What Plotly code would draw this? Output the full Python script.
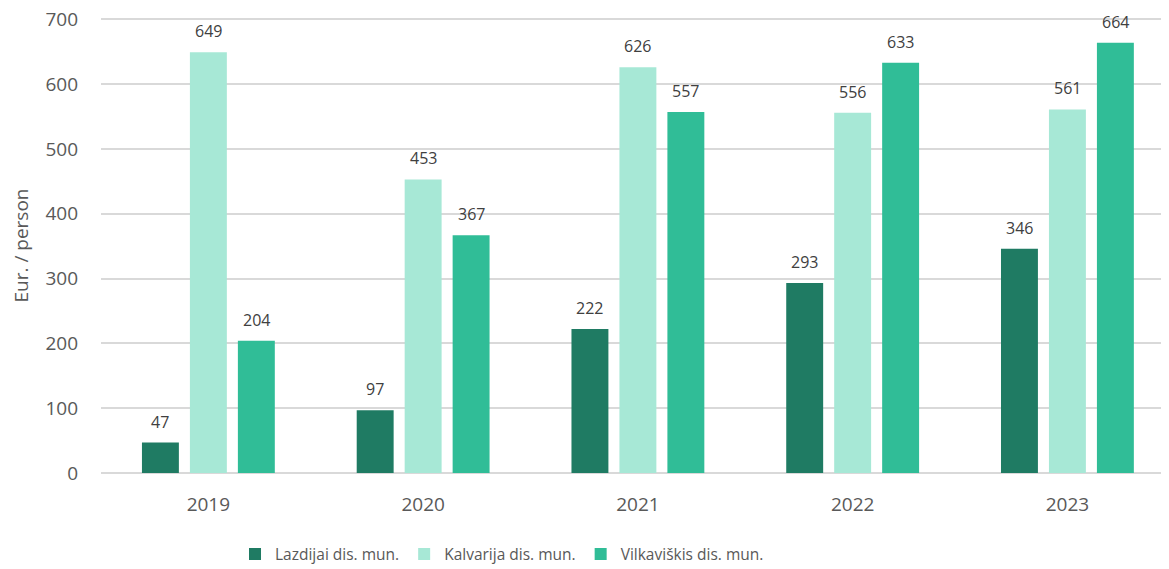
import plotly.graph_objects as go

years = ["2019", "2020", "2021", "2022", "2023"]
series_names = ["Lazdijai dis. mun.", "Kalvarija dis. mun.", "Vilkaviškis dis. mun."]
lazdijai = [47, 97, 222, 293, 346]
kalvarija = [649, 453, 626, 556, 561]
vilkaviskis = [204, 367, 557, 633, 664]
y_ticks = [0, 100, 200, 300, 400, 500, 600, 700]
colors = ["#1F7B63", "#A7E8D6", "#30BD97"]

FONT = "Open Sans"
TXT = "#595959"
bargap = 0.33

fig = go.Figure()
all_vals = [lazdijai, kalvarija, vilkaviskis]
for name, vals, c in zip(series_names, all_vals, colors):
    fig.add_trace(go.Bar(x=years, y=vals, name=name, marker=dict(color=c, line=dict(width=0))))

slot = (1 - bargap) / 3
for j, vals in enumerate(all_vals):
    for i, v in enumerate(vals):
        fig.add_annotation(x=i + (j - 1) * slot, y=v, xref="x", yref="y", text=str(v),
                           showarrow=False, yshift=21,
                           font=dict(family=FONT, size=16, color="#404040"))

fig.update_layout(
    width=1161, height=561,
    margin=dict(l=93, r=0, t=10, b=96, autoexpand=False),
    paper_bgcolor="white", plot_bgcolor="white",
    barmode="group", bargap=bargap, bargroupgap=0.23,
    font=dict(family=FONT, color=TXT),
    legend=dict(orientation="h", xref="container", x=0.4255, xanchor="center",
                yref="container", y=0.026, yanchor="middle",
                font=dict(family=FONT, size=15.5, color=TXT), itemwidth=30,
                traceorder="normal"),
    showlegend=True,
)
fig.update_xaxes(type="category", range=[-0.5, 4.473], showgrid=False, showline=False,
                 ticks="", tickfont=dict(family=FONT, size=19, color=TXT), ticklabelstandoff=18)
fig.update_yaxes(range=[0, 702], tickmode="array", tickvals=y_ticks, showgrid=True,
                 gridcolor="#D9D9D9", gridwidth=1.5, ticklabeloverflow="allow",
                 zeroline=True, zerolinecolor="#D9D9D9", zerolinewidth=1.5, showline=False,
                 tickfont=dict(family=FONT, size=19, color=TXT), ticklabelstandoff=22,
                 title=dict(text="Eur. / person", font=dict(family=FONT, size=19, color=TXT), standoff=22))

fig.write_html("out.html")
